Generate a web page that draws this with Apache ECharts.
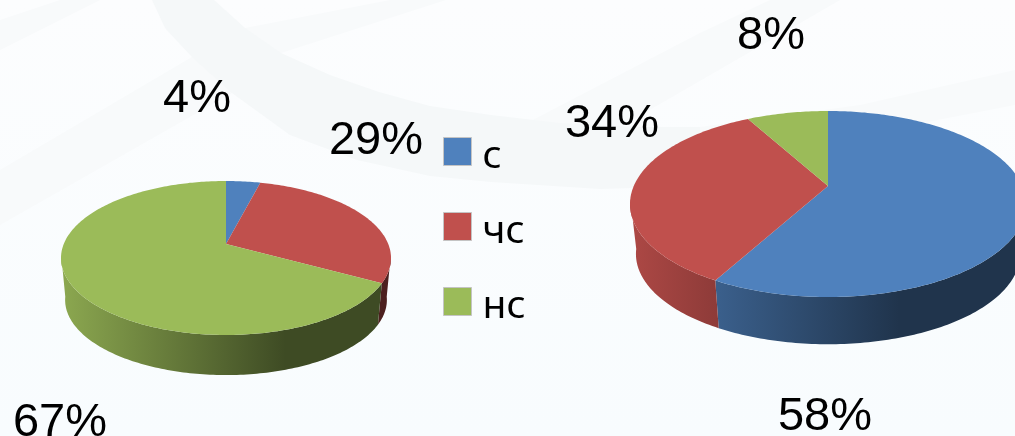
<!DOCTYPE html>
<html>
<head>
<meta charset="utf-8">
<style>
    html, body { margin: 0; padding: 0; background: #fafdfe; }
    #chart { width: 1015px; height: 436px; }
</style>
<script src="https://cdn.jsdelivr.net/npm/echarts@6/dist/echarts.min.js"></script>
</head>
<body>
<div id="chart"></div>
<script>
const categories = ["с", "чс", "нс"];
const leftValues = [4, 29, 67];
const rightValues = [58, 34, 8];
const colors = ["#4F81BD", "#C0504D", "#9BBB59"];

// apexY is where the centre of the disc lands, the perspective comes from it
const pies = [
    { values: leftValues, cx: 226, cy: 258, a: 165, b: 77, apexY: 244, drop: 42, shrink: 0.975,
      labels: [[197, 99], [376, 141], [60, 423]] },
    { values: rightValues, cx: 828, cy: 204, a: 198, b: 93, apexY: 186, drop: 50, shrink: 0.97,
      labels: [[825, 417], [612, 124], [771, 36]] },
];

function rimPoint(pie, deg, bottom) {
    let t = deg * Math.PI / 180;
    let u = Math.sin(t), v = Math.cos(t);
    let c0 = pie.apexY - pie.cy;
    let p = -c0 / pie.b;
    let w = 1 + p * v;
    let x = pie.a * Math.sqrt(1 - p * p) * u / w;
    let y = (c0 - pie.b * v) / w;
    if (bottom) {
        return [pie.cx + x * pie.shrink, pie.cy + pie.drop + y * pie.shrink];
    }
    return [pie.cx + x, pie.cy + y];
}

function angleRange(pie, index) {
    let total = pie.values.reduce((s, n) => s + n, 0);
    let before = pie.values.slice(0, index).reduce((s, n) => s + n, 0);
    return [before / total * 360, (before + pie.values[index]) / total * 360];
}

function shade(hex, f) {
    let n = parseInt(hex.slice(1), 16);
    return "rgb(" + [n >> 16, (n >> 8) & 255, n & 255].map((c) => Math.round(c * f)).join(",") + ")";
}

function wallFill(pie, color) {
    let x0 = pie.cx - pie.a, x1 = pie.cx + pie.a;
    return new echarts.graphic.LinearGradient(x0, 0, x1, 0, [
        { offset: 0, color: shade(color, 0.9) },
        { offset: 0.68, color: shade(color, 0.4) },
        { offset: 1, color: shade(color, 0.4) },
    ], true);
}

function renderSlice(seriesIndex, params, api) {
    let pie = pies[api.value(0)];
    let color = colors[seriesIndex];
    let range = angleRange(pie, seriesIndex);
    let children = [];

    // side wall, only the part facing the viewer
    let from = Math.max(range[0], 98), to = Math.min(range[1], 262);
    if (to > from) {
        let top = [], low = [];
        for (let d = from; d <= to; d += 1) {
            top.push(rimPoint(pie, d));
            low.push(rimPoint(pie, d, true));
        }
        top.push(rimPoint(pie, to));
        low.push(rimPoint(pie, to, true));
        children.push({
            type: "polygon",
            z2: 1,
            shape: { points: top.concat(low.reverse()) },
            style: { fill: wallFill(pie, color) },
        });
    }

    // top face
    let face = [[pie.cx, pie.apexY]];
    for (let d = range[0]; d < range[1]; d += 1) {
        face.push(rimPoint(pie, d));
    }
    face.push(rimPoint(pie, range[1]));
    children.push({
        type: "polygon",
        z2: 2,
        shape: { points: face },
        style: { fill: color },
    });

    let pos = pie.labels[seriesIndex];
    children.push({
        type: "text",
        z2: 3,
        x: pos[0],
        y: pos[1],
        style: {
            text: api.value(1) + "%",
            fill: "#000",
            font: '47px "Liberation Sans", Arial, sans-serif',
            align: "center",
            verticalAlign: "middle",
        },
    });
    return { type: "group", children: children };
}

const series = categories.map((name, i) => ({
    name: name,
    type: "custom",
    coordinateSystem: "none",
    itemStyle: { color: colors[i] },
    renderItem: (params, api) => renderSlice(i, params, api),
    data: pies.map((pie, k) => [k, pie.values[i]]),
    silent: true,
    animation: false,
}));

// faint swirl of the slide background
const swirl = [[152, 0], [165, 28], [192, 57], [232, 93], [290, 135], [357, 160], [430, 176], [491, 182],
    [600, 189], [700, 186], [700, 127], [640, 127], [560, 123], [491, 115], [430, 106], [379, 92], [330, 75],
    [281, 53], [245, 28], [214, 0]];
const streaks = [
    [[192, 57], [0, 170], [0, 225], [232, 93], [281, 53], [446, 0], [390, 0], [245, 28]],
    [[527, 123], [700, 33], [770, 0], [840, 0], [620, 127]],
    [[0, 20], [60, 0], [100, 0], [0, 50]],
    [[700, 127], [860, 105], [1015, 70], [1015, 105], [860, 135], [700, 150]],
];

const chart = echarts.init(document.getElementById("chart"));
chart.setOption({
    backgroundColor: {
        type: "linear", x: 0, y: 0, x2: 0, y2: 1,
        colorStops: [{ offset: 0, color: "#fcfdfe" }, { offset: 1, color: "#f8fcfe" }],
    },
    animation: false,
    graphic: streaks.map((pts) => ({
        type: "polygon",
        silent: true,
        z: -2,
        shape: { points: pts },
        style: { fill: "#f8fafb" },
    })).concat([{
        type: "polygon",
        silent: true,
        z: -1,
        shape: { points: swirl },
        style: { fill: "#f5f8f9" },
    }]),
    legend: {
        orient: "vertical",
        left: 443,
        top: 127,
        padding: 0,
        icon: "rect",
        itemWidth: 28,
        itemHeight: 28,
        itemGap: 26,
        selectedMode: false,
        itemStyle: { borderColor: "#c4c4c4", borderWidth: 1 },
        formatter: "{t|{name}}",
        textStyle: {
            color: "#000",
            fontFamily: '"Noto Sans", sans-serif',
            fontSize: 39,
            rich: {
                t: {
                    color: "#000",
                    fontFamily: '"Noto Sans", sans-serif',
                    fontSize: 39,
                    lineHeight: 38,
                    padding: [10, 0, 0, 6],
                },
            },
        },
        data: categories,
    },
    series: series,
});
</script>
</body>
</html>
